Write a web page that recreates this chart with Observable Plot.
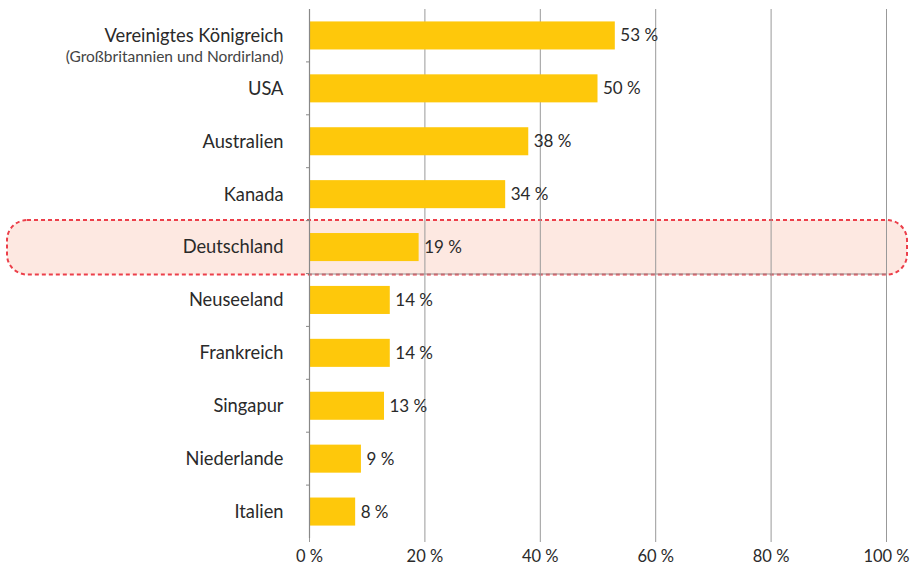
<!DOCTYPE html>
<html>
<head>
<meta charset="utf-8">
<script src="https://cdn.jsdelivr.net/npm/d3@7"></script>
<script src="https://cdn.jsdelivr.net/npm/@observablehq/plot@0.6"></script>
<style>
  html, body { margin: 0; padding: 0; background: #fff; }
  #chart svg { display: block; }
</style>
</head>
<body>
<div id="chart"></div>
<script>
const categories = ["Vereinigtes Königreich", "USA", "Australien", "Kanada", "Deutschland", "Neuseeland", "Frankreich", "Singapur", "Niederlande", "Italien"];
const values = [53, 50, 38, 34, 19, 14, 14, 13, 9, 8];
const subLabels = ["(Großbritannien und Nordirland)", "", "", "", "", "", "", "", "", ""];
const xTicks = [0, 20, 40, 60, 80, 100];
const highlighted = "Deutschland";

const data = categories.map((c, i) => ({ name: c, value: values[i], sub: subLabels[i] }));

const FONT = "Lato, 'Open Sans', sans-serif";
const TEXT = "#2a2a2a";

const chart = Plot.plot({
  width: 915,
  height: 566,
  marginLeft: 309,
  marginRight: 29,
  marginTop: 9,
  marginBottom: 28,
  style: { fontFamily: FONT, fontSize: "16px", color: TEXT, background: "#fff", overflow: "visible" },
  x: { domain: [0, 100], ticks: xTicks, tickFormat: d => `${d} %`, label: null },
  y: { domain: categories, paddingInner: 0.47, paddingOuter: 0.235, round: false, axis: null },
  marks: [
    Plot.ruleX(xTicks.filter(d => d > 0), { stroke: "#999", strokeWidth: 1 }),
    Plot.axisX({ ticks: xTicks, tickFormat: d => `${d} %`, tickSize: 4, tickPadding: 8, fontSize: 16.5, stroke: "#999", label: null, fill: TEXT }),
    Plot.ruleY([0], { x1: 0, x2: 100, y: null, frameAnchor: "bottom", stroke: "#999" }),
    Plot.barX(data, { x: "value", y: "name", fill: "#FEC80B" }),
    Plot.ruleX([0], { stroke: "#888", strokeWidth: 1.2 }),
    Plot.text(data, { x: "value", y: "name", text: d => `${d.value} %`, textAnchor: "start", dx: 5, fontSize: 17, fill: TEXT }),
    Plot.text(data, { x: 0, y: "name", text: "name", textAnchor: "end", dx: -26, fontSize: 18.3, fill: TEXT }),
    Plot.text(data.filter(d => d.sub), { x: 0, y: "name", text: "sub", textAnchor: "end", dx: -26, dy: 21, fontSize: 15.5, fill: "#444" })
  ]
});

// Highlight box behind the highlighted category, positioned from the y scale
const ys = chart.scale("y");
const yCenter = ys.apply(highlighted) + ys.bandwidth / 2;
const step = ys.step;
const svgNS = "http://www.w3.org/2000/svg";
const rect = document.createElementNS(svgNS, "rect");
rect.setAttribute("x", 7);
rect.setAttribute("y", yCenter - step / 2 - 0.5);
rect.setAttribute("width", 900);
rect.setAttribute("height", step + 1.5);
rect.setAttribute("rx", 20);
rect.setAttribute("ry", 20);
rect.setAttribute("fill", "#FDE8E1");
rect.setAttribute("stroke", "#EC3F4A");
rect.setAttribute("stroke-width", 2);
rect.setAttribute("stroke-dasharray", "4,3");
chart.insertBefore(rect, chart.querySelector("g"));

// small band-boundary ticks on the y axis
const g = document.createElementNS(svgNS, "g");
const x0 = chart.scale("x").apply(0);
for (let i = 1; i < categories.length; i++) {
  const yb = ys.apply(categories[i]) - (step - ys.bandwidth) / 2;
  const l = document.createElementNS(svgNS, "line");
  l.setAttribute("x1", x0 - 3); l.setAttribute("x2", x0);
  l.setAttribute("y1", yb); l.setAttribute("y2", yb);
  l.setAttribute("stroke", "#888");
  g.appendChild(l);
}
chart.appendChild(g);

document.getElementById("chart").appendChild(chart);
</script>
</body>
</html>
